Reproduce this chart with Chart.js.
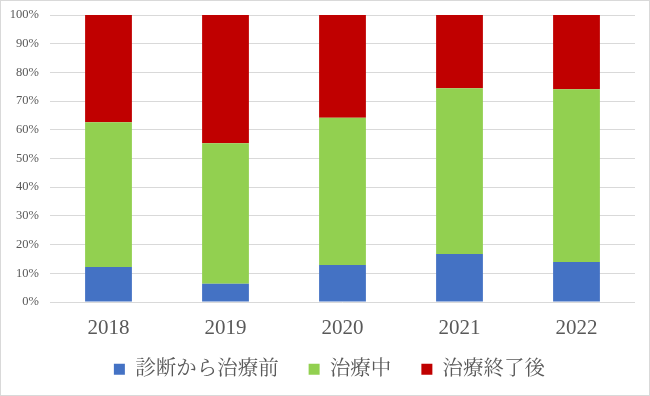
<!DOCTYPE html>
<html lang="ja">
<head>
<meta charset="utf-8">
<title>治療段階の割合</title>
<script src="https://cdn.jsdelivr.net/npm/chart.js"></script>
<style>
    html, body { margin: 0; padding: 0; background: #fff; }
    #wrap { width: 650px; height: 396px; position: relative; }
</style>
</head>
<body>
<div id="wrap"><canvas id="stageChart"></canvas></div>
<script>
// Data (percent of each year)
const years = ['2018', '2019', '2020', '2021', '2022'];
const beforeTreatment = [12.2, 6.4, 12.9, 16.7, 13.9];
const duringTreatment = [50.4, 48.9, 51.3, 57.8, 60.2];
const afterTreatment = [37.4, 44.7, 35.8, 25.5, 25.9];
const yTicks = [0, 10, 20, 30, 40, 50, 60, 70, 80, 90, 100];

const serif = "'Liberation Serif', 'Noto Serif CJK JP', 'Noto Sans CJK JP', serif";
const textColor = '#595959';
const gridColor = '#d9d9d9';

// thin grey frame round the whole chart, like the Excel chart area
const framePlugin = {
    id: 'frame',
    beforeDraw(chart) {
        const ctx = chart.ctx;
        ctx.save();
        ctx.fillStyle = '#ffffff';
        ctx.fillRect(0, 0, chart.width, chart.height);
        ctx.strokeStyle = gridColor;
        ctx.lineWidth = 1;
        ctx.strokeRect(0.5, 0.5, chart.width - 1, chart.height - 1);
        ctx.restore();
    }
};

// the legend needs wide item spacing (padding 30), which also makes its box tall;
// move it up a bit after layout so the year labels keep room and are not clipped
const legendShift = {
    id: 'legendShift',
    afterLayout(chart) {
        const lg = chart.legend;
        if (!lg) return;
        lg.top -= 13;
        lg.bottom -= 13;
        lg.left += 12;
        lg.right += 12;
    }
};

const ctx = document.getElementById('stageChart').getContext('2d');
new Chart(ctx, {
    type: 'bar',
    data: {
        labels: years,
        datasets: [{
            label: '診断から治療前',
            data: beforeTreatment,
            backgroundColor: '#4472C4'
        }, {
            label: '治療中',
            data: duringTreatment,
            backgroundColor: '#92D050'
        }, {
            label: '治療終了後',
            data: afterTreatment,
            backgroundColor: '#C00000'
        }]
    },
    options: {
        responsive: true,
        maintainAspectRatio: false,
        animation: false,
        layout: {
            padding: { left: 0, right: 15, top: 15, bottom: -6.5 }
        },
        datasets: {
            bar: {
                barPercentage: 0.4,
                categoryPercentage: 1,
                borderWidth: 0
            }
        },
        plugins: {
            tooltip: { enabled: false },
            legend: {
                position: 'bottom',
                labels: {
                    boxWidth: 11,
                    boxHeight: 11,
                    padding: 30,
                    color: textColor,
                    font: { family: serif, size: 20.5 }
                }
            }
        },
        scales: {
            x: {
                stacked: true,
                grid: { display: false, drawTicks: false },
                border: { display: false },
                ticks: {
                    color: textColor,
                    padding: 14,
                    font: { family: serif, size: 21 }
                },
                afterFit(scale) {
                    scale.height = 40;
                }
            },
            y: {
                stacked: true,
                min: 0,
                max: 100,
                afterBuildTicks(scale) {
                    scale.ticks = yTicks.map(v => ({ value: v }));
                },
                // invisible tick marks give the label gap, so ticks.padding
                // does not push the plot top down
                grid: {
                    color: gridColor,
                    drawTicks: true,
                    tickLength: 11,
                    tickColor: 'rgba(0,0,0,0)'
                },
                border: { display: false },
                ticks: {
                    color: textColor,
                    padding: 0,
                    font: { family: serif, size: 12.5 },
                    callback: v => v + '%'
                },
                afterFit(scale) {
                    scale.width = 50;
                }
            }
        }
    },
    plugins: [framePlugin, legendShift]
});
</script>
</body>
</html>
